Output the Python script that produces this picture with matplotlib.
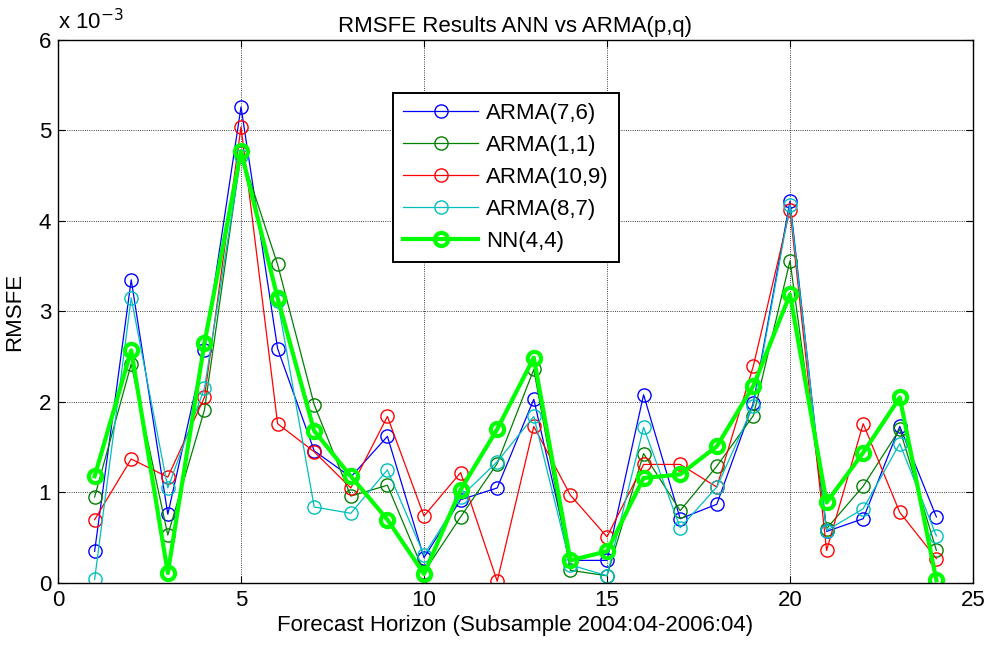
import matplotlib.pyplot as plt
import numpy as np

plt.rcParams['font.family'] = ['Liberation Sans', 'DejaVu Sans']

# forecast horizons
horizon = np.arange(1, 25)

# RMSFE values (x 1e-3)
arma76 = [0.35, 3.35, 0.76, 2.57, 5.26, 2.59, 1.46, 1.17, 1.62, 0.28, 0.92, 1.05,
          2.03, 0.25, 0.25, 2.08, 0.71, 0.87, 1.99, 4.22, 0.57, 0.71, 1.73, 0.73]
arma11 = [0.95, 2.42, 0.53, 1.91, 4.75, 3.52, 1.97, 0.96, 1.08, 0.12, 0.73, 1.32,
          2.36, 0.14, 0.08, 1.43, 0.80, 1.29, 1.85, 3.56, 0.60, 1.07, 1.70, 0.36]
arma109 = [0.70, 1.37, 1.17, 2.05, 5.04, 1.76, 1.45, 1.05, 1.84, 0.74, 1.22, 0.02,
           1.73, 0.97, 0.51, 1.31, 1.31, 1.06, 2.40, 4.12, 0.36, 1.76, 0.78, 0.27]
arma87 = [0.04, 3.15, 1.05, 2.15, 4.72, 3.12, 0.84, 0.77, 1.25, 0.31, 0.95, 1.34,
          1.84, 0.20, 0.08, 1.72, 0.61, 1.06, 1.96, 4.18, 0.58, 0.82, 1.54, 0.52]
nn44 = [1.18, 2.57, 0.11, 2.65, 4.77, 3.15, 1.68, 1.18, 0.70, 0.10, 1.03, 1.70,
        2.49, 0.25, 0.35, 1.16, 1.20, 1.51, 2.18, 3.19, 0.89, 1.44, 2.05, 0.03]

fig = plt.figure(figsize=(9.85, 6.49), dpi=100)
ax = fig.add_axes([0.0589, 0.1017, 0.9289, 0.8367])

ms = 9.5
ax.plot(horizon, arma76, '-o', color=(0, 0, 1), lw=0.9, ms=ms, mfc='none', label='ARMA(7,6)')
ax.plot(horizon, arma11, '-o', color=(0, 0.5, 0), lw=0.9, ms=ms, mfc='none', label='ARMA(1,1)')
ax.plot(horizon, arma109, '-o', color=(1, 0, 0), lw=0.9, ms=ms, mfc='none', label='ARMA(10,9)')
ax.plot(horizon, arma87, '-o', color=(0, 0.75, 0.75), lw=0.9, ms=ms, mfc='none', label='ARMA(8,7)')
ax.plot(horizon, nn44, '-o', color=(0, 1, 0), lw=3, ms=ms, mew=3, mfc='none', label='NN(4,4)')

ax.set_xlim(0, 25)
ax.set_ylim(0, 6)
ax.set_xticks(np.arange(0, 26, 5))
ax.set_yticks(np.arange(0, 7, 1))
ax.grid(True, color='black', linestyle=':', linewidth=0.6)
ax.tick_params(direction='in', top=True, right=True, labelsize=16, length=5, pad=5)
for s in ax.spines.values():
    s.set_linewidth(1.0)

ax.set_title('RMSFE Results ANN vs ARMA(p,q)', fontsize=16, pad=6)
ax.set_xlabel('Forecast Horizon (Subsample 2004:04-2006:04)', fontsize=16, labelpad=3)
ax.set_ylabel('RMSFE', fontsize=16, labelpad=10)
ax.text(0.0, 1.01, r'x 10$^{-3}$', transform=ax.transAxes, fontsize=16, va='bottom', ha='left')

leg = ax.legend(loc='upper left', bbox_to_anchor=(0.366, 0.903), fontsize=16,
                fancybox=False, edgecolor='black', framealpha=1, borderpad=0.45,
                borderaxespad=0, handlelength=3.4, handletextpad=0.35, labelspacing=0.5)
leg.get_frame().set_linewidth(1.4)

fig.savefig('out.png', dpi=100)
